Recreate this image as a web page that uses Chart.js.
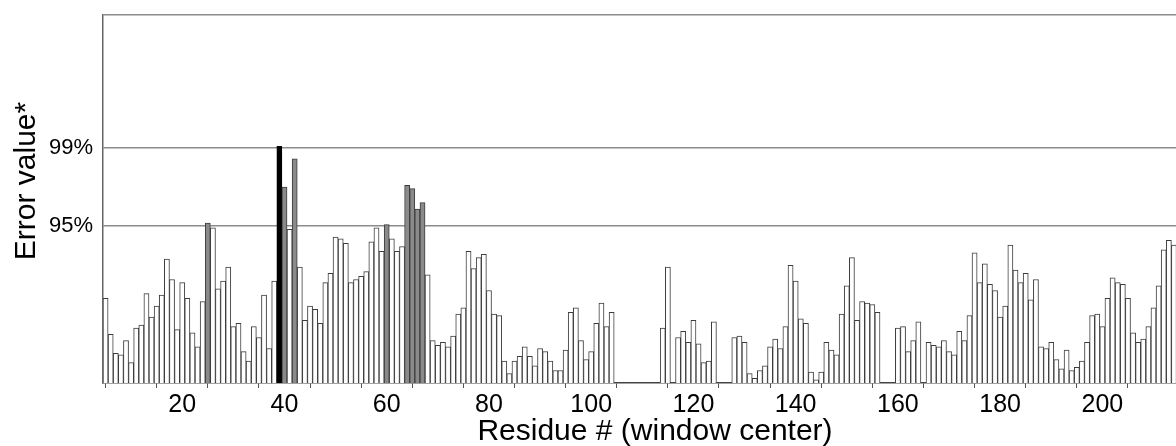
<!DOCTYPE html>
<html>
<head>
<meta charset="utf-8">
<script src="https://cdn.jsdelivr.net/npm/chart.js@4.4.1/dist/chart.umd.min.js"></script>
<style>
  html, body { margin: 0; padding: 0; background: #fff; }
</style>
</head>
<body>
<canvas id="chart" width="1176" height="446"></canvas>
<script>

// Error value per residue (window center), residues 5..214, null = no window
const firstResidue = 5;
const errorValues = [
  0.54, 0.31, 0.19, 0.18, 0.27, 0.13, 0.35, 0.37, 0.57, 0.42,
  0.49, 0.56, 0.79, 0.66, 0.34, 0.64, 0.54, 0.32, 0.23, 0.52,
  1.02, 0.99, 0.60, 0.65, 0.74, 0.36, 0.38, 0.20, 0.14, 0.36,
  0.29, 0.56, 0.22, 0.65, 1.51, 1.25, 0.98, 1.43, 0.74, 0.40,
  0.49, 0.47, 0.38, 0.64, 0.70, 0.93, 0.92, 0.89, 0.64, 0.66,
  0.68, 0.71, 0.90, 0.99, 0.84, 1.01, 0.92, 0.84, 0.87, 1.26,
  1.24, 1.11, 1.15, 0.69, 0.27, 0.24, 0.26, 0.23, 0.30, 0.44,
  0.48, 0.84, 0.73, 0.80, 0.82, 0.59, 0.44, 0.43, 0.14, 0.06,
  0.14, 0.17, 0.23, 0.17, 0.11, 0.22, 0.20, 0.14, 0.08, 0.08,
  0.21, 0.45, 0.48, 0.27, 0.15, 0.20, 0.38, 0.51, 0.36, 0.45,
  null, null, null, null, null, null, null, null, null, 0.35,
  0.74, null, 0.29, 0.33, 0.26, 0.40, 0.25, 0.13, 0.14, 0.39,
  null, null, null, 0.29, 0.30, 0.26, 0.06, 0.03, 0.08, 0.11,
  0.23, 0.28, 0.22, 0.36, 0.75, 0.65, 0.41, 0.38, 0.07, 0.02,
  0.07, 0.26, 0.21, 0.18, 0.44, 0.62, 0.80, 0.40, 0.52, 0.51,
  0.50, 0.45, null, null, null, 0.35, 0.36, 0.20, 0.27, 0.39,
  null, 0.26, 0.24, 0.23, 0.27, 0.20, 0.18, 0.33, 0.27, 0.43,
  0.83, 0.64, 0.76, 0.63, 0.59, 0.42, 0.49, 0.88, 0.72, 0.64,
  0.70, 0.53, 0.66, 0.23, 0.22, 0.26, 0.15, 0.09, 0.21, 0.08,
  0.10, 0.14, 0.26, 0.43, 0.44, 0.36, 0.54, 0.67, 0.64, 0.63,
  0.54, 0.32, 0.26, 0.28, 0.36, 0.48, 0.62, 0.85, 0.91, 0.88
];
const residues = errorValues.map((v, i) => firstResidue + i);

// highlighted windows
const grayResidues = [25, 40, 42, 60, 64, 65, 66, 67];
const blackResidues = [39];

// axis ticks
const xTickValues = [10, 20, 30, 40, 50, 60, 70, 80, 90, 100, 110, 120, 130, 140, 150, 160, 170, 180, 190, 200, 210];
const yTickValues = [1.0, 1.5];
const yTickLabels = ["95%", "99%"];
const yMax = 2.347;
const xTitle = "Residue # (window center)";
const yTitle = "Error value*";

const points = [];
residues.forEach((r, i) => {
  if (errorValues[i] !== null) points.push({ x: r, y: errorValues[i] });
});

const fontFamily = "'Liberation Sans', Arial, Helvetica, sans-serif";

const barFill = (ctx) => {
  const r = ctx.raw ? ctx.raw.x : 0;
  if (blackResidues.includes(r)) return "#000";
  if (grayResidues.includes(r)) return "#8a8a8a";
  return "#fff";
};

// axis titles: the original figure is cut on the right, so they are not centred on the plot
const axisTitles = {
  id: "axisTitles",
  afterDraw(c) {
    const g = c.ctx;
    g.save();
    g.fillStyle = "#000";
    g.textAlign = "center";
    g.textBaseline = "alphabetic";
    g.font = "30px " + fontFamily;
    g.fillText(xTitle, 655, 440);
    g.translate(35, 181);
    g.rotate(-Math.PI / 2);
    g.fillText(yTitle, 0, 0);
    g.restore();
  }
};

const chart = document.querySelector("#chart").getContext("2d");

new Chart(chart, {
  type: "bar",
  data: {
    datasets: [
      {
        label: "Error value",
        data: points,
        backgroundColor: barFill,
        borderColor: (ctx) => blackResidues.includes(ctx.raw ? ctx.raw.x : 0) ? "#000" : "#3c3c3c",
        borderWidth: 1,
        borderSkipped: "bottom",
        barPercentage: 1,
        categoryPercentage: 1
      }
    ]
  },
  options: {
    responsive: false,
    animation: false,
    layout: { padding: { top: 15, right: 0, bottom: 0, left: 0 } },
    plugins: {
      legend: { display: false },
      tooltip: { enabled: false }
    },
    scales: {
      x: {
        type: "linear",
        min: 4.5,
        max: 214.4,
        offset: false,
        afterBuildTicks: (axis) => { axis.ticks = xTickValues.map(v => ({ value: v })); },
        afterFit: (s) => { s.height = 63; s.paddingLeft = 0; s.paddingRight = 0; },
        grid: { drawOnChartArea: false, drawTicks: true, tickLength: 5, color: "#555", lineWidth: 1 },
        border: { color: "#444", width: 1.5 },
        ticks: {
          autoSkip: false,
          maxRotation: 0,
          padding: 2,
          color: "#000",
          font: { family: fontFamily, size: 25 },
          callback: (v) => (v % 20 === 0 ? String(v) : "")
        },
        title: { display: false }
      },
      y: {
        min: 0,
        max: yMax,
        afterBuildTicks: (axis) => {
          axis.ticks = yTickValues.map(v => ({ value: v })).concat([{ value: yMax }]);
        },
        afterFit: (s) => { s.width = 103; s.paddingTop = 0; s.paddingBottom = 0; },
        grid: { drawTicks: false, color: "#8c8c8c", lineWidth: 1.5 },
        border: { display: true, color: "#666", width: 1.5 },
        ticks: {
          padding: 10,
          color: "#000",
          font: { family: fontFamily, size: 22 },
          callback: (v) => {
            const i = yTickValues.indexOf(v);
            return i >= 0 ? yTickLabels[i] : "";
          }
        },
        title: { display: false }
      }
    }
  },
  plugins: [axisTitles]
});

</script>
</body>
</html>
